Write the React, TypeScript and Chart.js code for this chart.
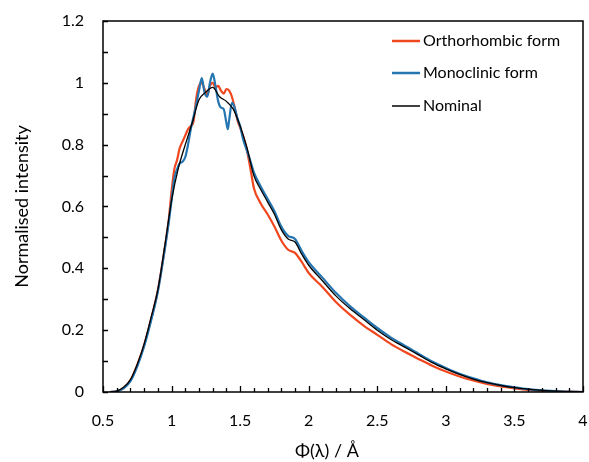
import React, { useEffect, useRef } from "react";
import { Chart, registerables } from "chart.js";

Chart.register(...registerables);

// ---- Data ----
const nominalX = [0.55, 0.6, 0.65, 0.7, 0.75, 0.8, 0.85, 0.9, 0.95, 1.0, 1.05, 1.1, 1.15, 1.2, 1.25, 1.3, 1.35, 1.4, 1.45, 1.5, 1.55, 1.6, 1.65, 1.7, 1.75, 1.8, 1.85, 1.9, 1.95, 2.0, 2.1, 2.2, 2.3, 2.4, 2.5, 2.6, 2.7, 2.8, 2.9, 3.0, 3.1, 3.2, 3.3, 3.4, 3.5, 3.6, 3.7, 3.8, 3.9, 4.0];
const nominalY = [0, 0.003, 0.015, 0.04, 0.09, 0.155, 0.24, 0.33, 0.47, 0.62, 0.725, 0.8, 0.87, 0.945, 0.97, 0.985, 0.955, 0.94, 0.915, 0.86, 0.79, 0.7, 0.655, 0.615, 0.575, 0.525, 0.495, 0.485, 0.445, 0.41, 0.36, 0.31, 0.27, 0.235, 0.2, 0.17, 0.145, 0.12, 0.095, 0.075, 0.057, 0.042, 0.03, 0.021, 0.014, 0.009, 0.005, 0.003, 0.001, 0];

const orthoX = [0.55, 0.6, 0.65, 0.7, 0.75, 0.8, 0.85, 0.9, 0.95, 0.98, 1.0, 1.02, 1.04, 1.06, 1.08, 1.1, 1.12, 1.14, 1.16, 1.18, 1.2, 1.22, 1.24, 1.26, 1.28, 1.3, 1.32, 1.34, 1.36, 1.38, 1.4, 1.42, 1.44, 1.46, 1.48, 1.5, 1.52, 1.55, 1.58, 1.6, 1.65, 1.7, 1.75, 1.8, 1.85, 1.9, 1.95, 2.0, 2.1, 2.2, 2.3, 2.4, 2.5, 2.6, 2.7, 2.8, 2.9, 3.0, 3.1, 3.2, 3.3, 3.4, 3.5, 3.6, 3.7, 3.8, 3.9, 4.0];
const orthoY = [0, 0.002, 0.013, 0.038, 0.088, 0.152, 0.235, 0.33, 0.465, 0.56, 0.65, 0.72, 0.75, 0.79, 0.81, 0.83, 0.85, 0.86, 0.875, 0.95, 0.99, 1.0, 0.98, 0.96, 0.99, 1.0, 0.985, 0.99, 0.975, 0.965, 0.98, 0.975, 0.955, 0.92, 0.88, 0.855, 0.83, 0.78, 0.71, 0.66, 0.61, 0.575, 0.535, 0.49, 0.46, 0.45, 0.42, 0.385, 0.34, 0.29, 0.25, 0.215, 0.185, 0.155, 0.13, 0.107, 0.085, 0.066, 0.05, 0.037, 0.026, 0.018, 0.012, 0.007, 0.004, 0.002, 0.001, 0];

const monoX = [0.55, 0.6, 0.65, 0.7, 0.75, 0.8, 0.85, 0.9, 0.95, 0.98, 1.0, 1.02, 1.04, 1.06, 1.08, 1.1, 1.12, 1.14, 1.16, 1.18, 1.2, 1.22, 1.24, 1.26, 1.28, 1.3, 1.32, 1.34, 1.36, 1.38, 1.4, 1.41, 1.42, 1.44, 1.46, 1.48, 1.5, 1.52, 1.55, 1.58, 1.6, 1.65, 1.7, 1.75, 1.8, 1.85, 1.9, 1.95, 2.0, 2.1, 2.2, 2.3, 2.4, 2.5, 2.6, 2.7, 2.8, 2.9, 3.0, 3.1, 3.2, 3.3, 3.4, 3.5, 3.6, 3.7, 3.8, 3.9, 4.0];
const monoY = [0, 0.002, 0.012, 0.035, 0.083, 0.148, 0.23, 0.325, 0.46, 0.55, 0.62, 0.69, 0.72, 0.74, 0.745, 0.76, 0.8, 0.85, 0.89, 0.93, 0.975, 1.015, 0.97, 0.955, 1.0, 1.03, 0.99, 0.94, 0.92, 0.915, 0.87, 0.85, 0.88, 0.935, 0.92, 0.885, 0.86, 0.82, 0.78, 0.74, 0.71, 0.665, 0.625, 0.585, 0.535, 0.505, 0.495, 0.455, 0.42, 0.37, 0.32, 0.278, 0.242, 0.207, 0.176, 0.15, 0.124, 0.099, 0.078, 0.059, 0.044, 0.031, 0.022, 0.015, 0.009, 0.005, 0.003, 0.001, 0];

const seriesLabels = ["Orthorhombic form", "Monoclinic form", "Nominal"];
const seriesColors = ["#f0471f", "#2475b0", "#000000"];
const xTitle = "Φ(λ) / Å";
const yTitle = "Normalised intensity";

const FONT = "Lato, 'Open Sans', sans-serif";

const toPts = (xs: number[], ys: number[]) => xs.map((x, i) => ({ x, y: ys[i] }));
const fmt = (v: any) => String(parseFloat(Number(v).toFixed(2)));

const framePlugin = {
  id: "frameTicks",
  afterDraw(chart: any) {
    const { ctx, chartArea } = chart;
    const xs = chart.scales.x;
    const ys = chart.scales.y;
    ctx.save();
    ctx.strokeStyle = "#000";
    ctx.lineWidth = 1.5;
    ctx.strokeRect(chartArea.left, chartArea.top, chartArea.right - chartArea.left, chartArea.bottom - chartArea.top);
    ctx.lineWidth = 1.3;
    ctx.beginPath();
    for (let i = 0; i <= 35; i++) {
      const v = 0.5 + i * 0.1;
      const px = Math.round(xs.getPixelForValue(v)) + 0.5;
      const len = i % 5 === 0 ? 6 : 4;
      ctx.moveTo(px, chartArea.bottom);
      ctx.lineTo(px, chartArea.bottom - len);
    }
    for (let i = 0; i <= 12; i++) {
      const v = i * 0.1;
      const py = Math.round(ys.getPixelForValue(v)) + 0.5;
      ctx.moveTo(chartArea.left, py);
      ctx.lineTo(chartArea.left + 5, py);
    }
    ctx.stroke();

    // x axis title
    ctx.fillStyle = "#000";
    ctx.font = "18px " + FONT;
    ctx.textAlign = "center";
    ctx.textBaseline = "middle";
    ctx.fillText(xTitle, 327, 451);

    // legend
    ctx.font = "16px " + FONT;
    const rows = [41, 73, 106];
    chart.data.datasets.forEach((ds: any, i: number) => {
      const y = rows[i];
      ctx.strokeStyle = ds.borderColor;
      ctx.lineWidth = i === 2 ? 1.5 : 2.5;
      ctx.beginPath();
      ctx.moveTo(392, y);
      ctx.lineTo(420, y);
      ctx.stroke();
      ctx.textAlign = "left";
      ctx.fillStyle = "#000";
      ctx.fillText(ds.label, 423, y);
    });
    ctx.restore();
  },
};

export default function App() {
  const ref = useRef<HTMLCanvasElement | null>(null);
  useEffect(() => {
    document.body.style.margin = "0";
    const canvas = ref.current;
    if (!canvas) return;
    const chart = new Chart(canvas, {
      type: "line",
      data: {
        datasets: [
          {
            label: seriesLabels[0],
            data: toPts(orthoX, orthoY),
            borderColor: seriesColors[0],
            borderWidth: 2.2,
            pointRadius: 0,
            cubicInterpolationMode: "monotone",
            order: 3,
          },
          {
            label: seriesLabels[1],
            data: toPts(monoX, monoY),
            borderColor: seriesColors[1],
            borderWidth: 2.2,
            pointRadius: 0,
            cubicInterpolationMode: "monotone",
            order: 2,
          },
          {
            label: seriesLabels[2],
            data: toPts(nominalX, nominalY),
            borderColor: seriesColors[2],
            borderWidth: 1.3,
            pointRadius: 0,
            cubicInterpolationMode: "monotone",
            order: 1,
          },
        ],
      },
      options: {
        animation: false,
        responsive: false,
        maintainAspectRatio: false,
        layout: { padding: { left: 0, top: 21, right: 6, bottom: 0 } },
        plugins: { legend: { display: false }, tooltip: { enabled: false } },
        scales: {
          x: {
            type: "linear",
            min: 0.5,
            max: 4,
            ticks: { stepSize: 0.5, padding: 19, color: "#000", font: { family: FONT, size: 16 }, maxRotation: 0, callback: fmt },
            grid: { display: false, drawTicks: false },
            border: { display: false },
            afterFit: (s: any) => {
              s.height = 70;
              s.paddingLeft = 0;
              s.paddingRight = 0;
            },
          },
          y: {
            min: 0,
            max: 1.2,
            ticks: { stepSize: 0.2, padding: 19, color: "#000", font: { family: FONT, size: 16 }, callback: fmt },
            grid: { display: false, drawTicks: false },
            border: { display: false },
            title: { display: true, text: yTitle, color: "#000", font: { family: FONT, size: 18 }, padding: { top: 11, bottom: 0 } },
            afterFit: (s: any) => {
              s.width = 103;
              s.paddingTop = 0;
              s.paddingBottom = 0;
            },
          },
        },
      },
      plugins: [framePlugin],
    });
    return () => chart.destroy();
  }, []);
  return (
    <div style={{ position: "fixed", left: 0, top: 0, width: 589, height: 462, background: "#fff" }}>
      <canvas ref={ref} width={589} height={462} style={{ width: 589, height: 462 }} />
    </div>
  );
}
